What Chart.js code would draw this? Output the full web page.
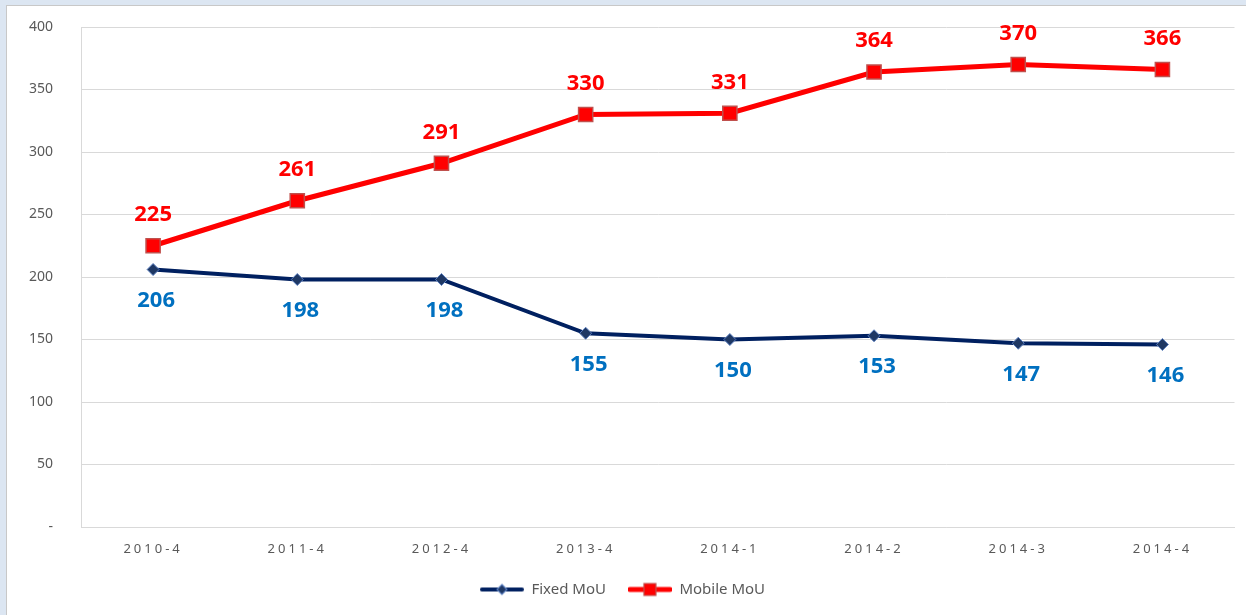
<!DOCTYPE html>
<html>
<head>
<meta charset="utf-8">
<script src="https://cdn.jsdelivr.net/npm/chart.js@4.4.1/dist/chart.umd.min.js"></script>
<style>
html, body { margin: 0; padding: 0; background: #dce6f2; width: 1246px; height: 615px; overflow: hidden; }
#panel { position: absolute; left: 6px; top: 5px; width: 1240px; height: 610px; box-sizing: border-box;
         border-left: 1px solid #c8c8c8; border-top: 1px solid #c8c8c8; background: #fff; }
#wrap { position: absolute; left: 0; top: 0; width: 1239px; height: 609px; }
</style>
</head>
<body>
<div id="panel"><div id="wrap"><canvas id="grafico"></canvas></div></div>
<script>
// Datos del gráfico
const periodos = ['2010-4', '2011-4', '2012-4', '2013-4', '2014-1', '2014-2', '2014-3', '2014-4'];
const fixedMoU = [206, 198, 198, 155, 150, 153, 147, 146];
const mobileMoU = [225, 261, 291, 330, 331, 364, 370, 366];
const ejeY = [0, 50, 100, 150, 200, 250, 300, 350, 400];

const fuente = '"Noto Sans", "Open Sans", sans-serif';

// Icono de leyenda: línea con marcador en el centro
function iconoLeyenda(color, grosor, marcador, relleno, borde) {
    const c = document.createElement('canvas');
    c.width = 44; c.height = 16;
    const ctx = c.getContext('2d');
    ctx.strokeStyle = color;
    ctx.lineWidth = grosor;
    ctx.lineCap = 'round';
    ctx.beginPath(); ctx.moveTo(2, 8); ctx.lineTo(42, 8); ctx.stroke();
    ctx.fillStyle = relleno;
    ctx.strokeStyle = borde;
    ctx.lineWidth = 1.2;
    ctx.beginPath();
    if (marcador === 'cuadro') {
        ctx.rect(16, 2, 12, 12);
    } else {
        ctx.moveTo(22, 3); ctx.lineTo(27, 8); ctx.lineTo(22, 13); ctx.lineTo(17, 8); ctx.closePath();
    }
    ctx.fill(); ctx.stroke();
    return c;
}

const iconos = [
    iconoLeyenda('#002060', 4, 'rombo', '#1f3864', '#5b7fbf'),
    iconoLeyenda('#ff0000', 5, 'cuadro', '#ff0000', '#c0504d')
];

// Etiquetas de valores sobre / bajo los puntos
const etiquetas = {
    id: 'etiquetas',
    afterDatasetsDraw(chart) {
        const ctx = chart.ctx;
        chart.data.datasets.forEach((ds, i) => {
            const meta = chart.getDatasetMeta(i);
            ctx.save();
            ctx.font = 'bold 22px ' + fuente;
            ctx.fillStyle = ds.colorEtiqueta;
            ctx.textAlign = 'center';
            ctx.textBaseline = 'middle';
            meta.data.forEach((p, j) => {
                ctx.fillText(ds.data[j], p.x + ds.dxEtiqueta, p.y + ds.dyEtiqueta);
            });
            ctx.restore();
        });
    }
};

// Espaciado de letras en las etiquetas del eje X
const espaciadoX = {
    id: 'espaciadoX',
    beforeDraw(chart) {
        const x = chart.scales.x;
        if (x && !x._espaciado) {
            const original = x.drawLabels.bind(x);
            x.drawLabels = function(area) {
                this.ctx.save();
                this.ctx.letterSpacing = '3px';
                original(area);
                this.ctx.restore();
            };
            x._espaciado = true;
        }
    }
};

new Chart(document.getElementById('grafico'), {
    type: 'line',
    data: {
        labels: periodos,
        datasets: [{
            label: 'Fixed MoU',
            data: fixedMoU,
            borderColor: '#002060',
            borderWidth: 4,
            backgroundColor: '#1f3864',
            pointStyle: 'rectRot',
            pointRadius: 6,
            pointBackgroundColor: '#1f3864',
            pointBorderColor: '#5b7fbf',
            pointBorderWidth: 1,
            pointHoverRadius: 6,
            tension: 0,
            colorEtiqueta: '#0070c0',
            dxEtiqueta: 3,
            dyEtiqueta: 31
        }, {
            label: 'Mobile MoU',
            data: mobileMoU,
            borderColor: '#ff0000',
            borderWidth: 5,
            backgroundColor: '#ff0000',
            pointStyle: 'rect',
            pointRadius: 10,
            pointBackgroundColor: '#ff0000',
            pointBorderColor: '#c0504d',
            pointBorderWidth: 1.5,
            pointHoverRadius: 10,
            tension: 0,
            colorEtiqueta: '#ff0000',
            dxEtiqueta: 0,
            dyEtiqueta: -31
        }]
    },
    options: {
        responsive: true,
        maintainAspectRatio: false,
        animation: false,
        layout: { padding: { left: 0, right: 8, top: 21, bottom: 8 } },
        plugins: {
            tooltip: { enabled: false },
            legend: {
                position: 'bottom',
                labels: {
                    usePointStyle: true,
                    pointStyleWidth: 44,
                    padding: 22,
                    color: '#595959',
                    font: { family: fuente, size: 15 },
                    generateLabels: chart => {
                        const items = Chart.defaults.plugins.legend.labels.generateLabels(chart);
                        items.forEach((it, i) => { it.pointStyle = iconos[i]; });
                        return items;
                    }
                }
            }
        },
        scales: {
            x: {
                offset: true,
                grid: { display: false, drawTicks: false },
                border: { display: true, color: '#d9d9d9' },
                ticks: { color: '#595959', font: { family: fuente, size: 13 }, padding: 14, maxRotation: 0 },
                afterFit: s => { s.height = 33; }
            },
            y: {
                min: 0,
                max: 400,
                afterBuildTicks: s => { s.ticks = ejeY.map(v => ({ value: v })); },
                grid: { color: '#d9d9d9', drawTicks: false },
                border: { display: true, color: '#d9d9d9' },
                ticks: {
                    color: '#595959',
                    font: { family: fuente, size: 14 },
                    padding: 28,
                    callback: v => v === 0 ? '-' : v
                },
                afterFit: s => { s.width = 74; s.paddingTop = 10; s.paddingBottom = 10; }
            }
        }
    },
    plugins: [etiquetas, espaciadoX]
});
</script>
</body>
</html>
